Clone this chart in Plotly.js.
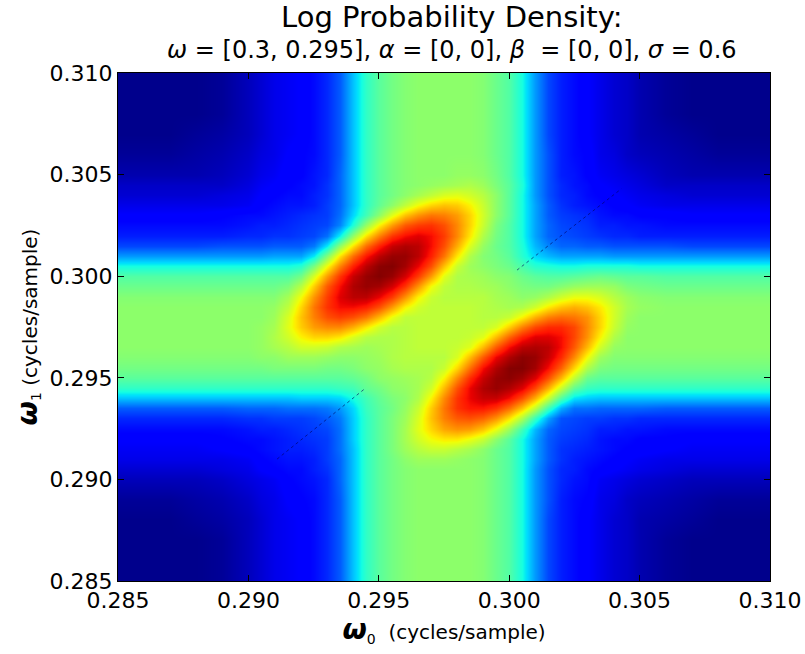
<!DOCTYPE html>
<html>
<head>
<meta charset="utf-8">
<script src="https://cdn.plot.ly/plotly-3.0.1.min.js"></script>
<style>html,body{margin:0;padding:0;background:#fff;}#chart{width:805px;height:654px;}</style>
</head>
<body>
<div id="chart"></div>
<script>
// omega_0 grid (x, cycles/sample), finer in the middle
const omega0 = [0.285,0.286,0.287,0.288,0.289,
  0.2900,0.2905,0.2910,0.2915,0.2920,0.2925,0.2930,0.2935,0.2940,0.2945,
  0.2950,0.2955,0.2960,0.2965,0.2970,0.2975,0.2980,0.2985,0.2990,0.2995,
  0.3000,0.3005,0.3010,0.3015,0.3020,0.3025,0.3030,0.3035,0.3040,0.3045,0.3050,
  0.306,0.307,0.308,0.309,0.310];
// omega_1 grid (y, cycles/sample)
const omega1 = [0.285,0.286,0.287,0.288,0.289,
  0.2900,0.2905,0.2910,0.2915,0.2920,0.2925,0.2930,0.2935,0.2940,0.2945,
  0.2950,0.2955,0.2960,0.2965,0.2970,0.2975,0.2980,0.2985,0.2990,0.2995,
  0.3000,0.3005,0.3010,0.3015,0.3020,0.3025,0.3030,0.3035,0.3040,0.3045,0.3050,
  0.306,0.307,0.308,0.309,0.310];
// log probability density (relative 0-100 scale); rows follow omega1
const logDensity = [
[3,3,3,3,4,7,9,11,12,13,15,18,23,33,42,47,50,52,53,53,53,53,53,52,49,46,39,29,21,17,15,13,11,9,8,6,4,3,3,3,3],
[3,3,3,3,4,7,9,11,12,13,15,18,23,33,42,47,50,52,53,53,53,53,53,52,49,46,39,29,21,17,15,13,11,9,8,6,4,3,3,3,3],
[3,3,3,3,4,7,9,11,12,13,15,18,23,33,42,47,50,52,53,53,53,53,53,52,49,46,39,29,21,17,15,13,11,9,8,6,4,3,3,3,3],
[3,3,3,4,5,7,9,11,12,13,15,18,23,33,42,47,50,52,53,53,53,53,53,52,49,46,39,29,21,17,15,13,11,9,8,6,5,4,3,3,3],
[4,4,4,5,6,8,10,11,13,14,15,18,23,33,42,47,50,52,53,53,53,53,53,52,49,46,39,29,22,17,15,14,11,10,8,7,6,5,4,4,4],
[7,7,7,7,8,10,11,12,14,15,16,18,24,33,42,47,50,52,53,53,53,53,53,52,49,46,39,29,22,18,16,15,12,11,10,9,8,7,7,7,7],
[9,9,9,9,10,11,13,14,15,15,17,19,24,33,42,47,50,52,53,53,53,53,53,52,49,46,39,29,22,18,17,15,14,13,12,11,10,9,9,9,9],
[11,11,11,11,11,12,14,15,16,16,17,20,24,33,42,47,50,53,55,55,55,54,53,52,49,46,39,30,23,19,17,16,15,14,13,12,11,11,11,11,11],
[12,12,12,12,13,14,15,16,17,17,18,20,25,33,42,47,51,55,58,60,60,58,56,53,49,46,39,30,23,19,18,17,16,15,14,14,13,12,12,12,12],
[13,13,13,13,14,15,15,16,17,18,19,20,25,34,42,47,51,56,61,65,67,67,64,60,53,47,39,30,23,20,19,18,16,15,15,14,14,13,13,13,13],
[15,15,15,15,15,16,17,17,18,19,20,21,25,34,42,47,51,56,63,69,74,76,75,71,64,55,44,32,24,21,20,19,17,17,16,16,15,15,15,15,15],
[18,18,18,18,18,19,19,20,20,20,21,23,26,34,42,47,51,55,62,71,78,82,83,81,76,68,57,43,30,22,21,20,20,19,19,18,18,18,18,18,18],
[23,23,23,23,23,24,24,24,25,25,25,26,29,35,43,47,50,54,60,70,79,86,89,89,86,80,71,59,44,31,25,25,24,24,24,24,23,23,23,23,23],
[33,33,33,33,33,33,33,33,33,34,34,34,35,39,44,48,51,53,57,66,77,86,91,94,94,90,83,73,60,46,36,34,33,33,33,33,33,33,33,33,33],
[42,42,42,42,42,42,42,42,42,42,42,42,43,44,48,50,53,54,56,61,72,83,91,96,98,96,92,84,73,60,48,43,42,42,42,42,42,42,42,42,42],
[47,47,47,47,47,47,47,47,47,47,47,47,47,48,50,53,54,55,56,58,66,77,87,94,98,99,97,92,83,72,59,49,47,47,47,47,47,47,47,47,47],
[50,50,50,50,50,50,50,51,51,51,51,50,50,51,53,54,56,57,57,57,60,69,80,90,96,99.5,99.7,97,90,81,69,57,51,50,50,50,50,50,50,50,50],
[52,52,52,52,52,52,53,53,55,55,55,54,53,53,54,55,57,58,58,58,58,62,72,82,91,96,99,98,94,87,77,65,55,52,52,52,52,52,52,52,52],
[53,53,53,53,53,53,54,56,58,61,61,60,57,56,55,56,57,58,59,59,59,60,63,72,82,90,95,96,95,90,82,72,61,54,53,53,53,53,53,53,53],
[53,53,53,53,53,53,54,57,61,66,69,69,67,62,58,57,57,58,59,59,59,59,60,63,72,81,88,92,92,90,84,76,66,57,53,53,53,53,53,53,53],
[53,53,53,53,53,53,54,56,63,70,75,77,77,73,67,61,58,58,59,59,59,59,59,59,62,70,78,84,87,87,84,77,69,60,54,53,53,53,53,53,53],
[53,53,53,53,53,53,53,55,62,71,78,83,85,83,79,72,64,59,59,59,59,59,59,58,58,60,66,73,78,80,79,76,69,61,55,53,53,53,53,53,53],
[53,53,53,53,53,53,53,54,59,69,79,86,90,90,88,83,75,66,61,59,59,59,59,58,57,56,57,61,67,71,73,71,67,61,56,54,53,53,53,53,53],
[52,52,52,52,52,52,52,52,56,65,76,85,92,95,95,91,85,76,66,60,58,58,58,58,56,55,53,54,57,61,64,64,62,58,55,53,52,52,52,52,52],
[49,49,49,49,49,49,49,49,51,58,70,82,90,96,98,97,93,86,76,65,59,57,57,56,55,53,51,50,50,52,54,55,55,54,51,50,49,49,49,49,49],
[46,46,46,46,46,46,46,46,46,50,62,75,86,94,98,99.7,98,93,85,75,63,57,56,55,53,52,49,47,46,46,47,48,49,48,47,47,46,46,46,46,46],
[39,39,39,39,39,39,39,39,39,41,51,65,78,88,95,99,99.7,97,91,83,71,60,55,53,51,49,45,41,40,39,39,40,40,40,40,39,39,39,39,39,39],
[29,29,29,29,29,29,29,30,30,30,37,52,68,80,89,95,98,98,95,88,79,67,57,52,50,47,41,35,32,30,30,30,30,29,29,29,29,29,29,29,29],
[21,21,21,21,22,22,22,23,23,23,26,37,54,68,80,88,94,96,95,90,83,73,62,54,49,46,40,32,27,24,24,23,23,22,22,22,22,21,21,21,21],
[17,17,17,17,17,18,18,19,19,20,21,25,38,54,68,78,86,90,92,90,85,77,67,57,50,46,39,30,24,22,21,20,19,18,18,17,17,17,17,17,17],
[15,15,15,15,15,16,17,17,18,19,20,21,27,40,54,66,75,82,85,86,83,77,69,60,51,46,39,30,24,21,20,19,17,17,16,16,15,15,15,15,15],
[13,13,13,13,14,15,15,16,17,18,19,20,25,35,44,53,63,71,76,79,78,75,69,61,53,47,39,30,23,20,19,18,16,15,15,14,14,13,13,13,13],
[11,11,11,11,11,12,14,15,16,16,17,20,24,33,42,48,53,59,65,69,71,70,66,60,53,47,39,30,23,19,17,16,15,14,13,12,11,11,11,11,11],
[9,9,9,9,10,11,13,14,15,15,17,19,24,33,42,47,50,53,56,59,62,63,61,58,53,47,39,29,22,18,17,15,14,13,12,11,10,9,9,9,9],
[8,8,8,8,8,10,12,13,14,15,16,19,24,33,42,47,50,52,53,54,55,56,57,55,51,47,40,29,22,18,16,15,13,12,11,10,8,8,8,8,8],
[6,6,6,6,7,9,11,12,14,14,16,18,24,33,42,47,50,52,53,53,53,54,54,53,50,46,39,29,22,17,16,14,12,11,10,9,7,6,6,6,6],
[4,4,4,5,6,8,10,11,13,14,15,18,23,33,42,47,50,52,53,53,53,53,53,52,49,46,39,29,22,17,15,14,11,10,8,7,6,5,4,4,4],
[3,3,3,4,5,7,9,11,12,13,15,18,23,33,42,47,50,52,53,53,53,53,53,52,49,46,39,29,21,17,15,13,11,9,8,6,5,4,3,3,3],
[3,3,3,3,4,7,9,11,12,13,15,18,23,33,42,47,50,52,53,53,53,53,53,52,49,46,39,29,21,17,15,13,11,9,8,6,4,3,3,3,3],
[3,3,3,3,4,7,9,11,12,13,15,18,23,33,42,47,50,52,53,53,53,53,53,52,49,46,39,29,21,17,15,13,11,9,8,6,4,3,3,3,3],
[3,3,3,3,4,7,9,11,12,13,15,18,23,33,42,47,50,52,53,53,53,53,53,52,49,46,39,29,21,17,15,13,11,9,8,6,4,3,3,3,3]
];
// faint dotted artifacts along the diagonal
const artifactLowX = [0.2911, 0.2945];
const artifactLowY = [0.2910, 0.2945];
const artifactHighX = [0.3003, 0.3043];
const artifactHighY = [0.3003, 0.3043];
// tick labels
const tickVals = [0.285, 0.290, 0.295, 0.300, 0.305, 0.310];
const tickText = ['0.285', '0.290', '0.295', '0.300', '0.305', '0.310'];

const jet = [
  [0, 'rgb(0,0,128)'], [0.11, 'rgb(0,0,255)'], [0.125, 'rgb(0,0,255)'],
  [0.34, 'rgb(0,219,255)'], [0.35, 'rgb(0,229,247)'], [0.375, 'rgb(20,255,226)'],
  [0.64, 'rgb(239,255,8)'], [0.65, 'rgb(247,246,0)'], [0.66, 'rgb(255,236,0)'],
  [0.89, 'rgb(255,19,0)'], [0.91, 'rgb(232,0,0)'], [1, 'rgb(128,0,0)']
];

const font = 'DejaVu Sans, Liberation Sans, sans-serif';

const traces = [
  {
    type: 'heatmap', x: omega0, y: omega1, z: logDensity,
    colorscale: jet, zmin: 2, zmax: 100, zsmooth: 'best', showscale: false, hoverinfo: 'skip'
  },
  {
    type: 'scatter', mode: 'lines', x: artifactLowX, y: artifactLowY,
    line: {color: 'rgba(0,0,90,0.6)', width: 1, dash: 'dot'}, hoverinfo: 'skip', showlegend: false
  },
  {
    type: 'scatter', mode: 'lines', x: artifactHighX, y: artifactHighY,
    line: {color: 'rgba(0,0,90,0.6)', width: 1, dash: 'dot'}, hoverinfo: 'skip', showlegend: false
  }
];

const axisCommon = {
  tickvals: tickVals, ticktext: tickText,
  ticks: 'inside', ticklen: 6, tickwidth: 1, tickcolor: '#000',
  showline: true, linecolor: '#000', linewidth: 1, mirror: 'ticks',
  showgrid: false, zeroline: false,
  tickfont: {family: font, size: 22, color: '#000'}
};

const layout = {
  width: 805, height: 654,
  margin: {l: 118, r: 35, t: 73, b: 73, pad: 0},
  paper_bgcolor: '#fff', plot_bgcolor: '#fff',
  showlegend: false,
  title: {
    text: '<span style="font-size:29px">Log Probability Density:</span><br><i>ω</i> = [0.3, 0.295], <i>α</i> = [0, 0], <i>β</i>  = [0, 0], <i>σ</i> = 0.6',
    font: {family: font, size: 24, color: '#000'},
    x: 0.512, xref: 'paper', xanchor: 'center',
    y: 0.9587, yref: 'container', yanchor: 'top'
  },
  xaxis: Object.assign({}, axisCommon, {
    range: [0.285, 0.310],
    title: {
      text: '<span style="font-size:28px"><b><i>ω</i></b></span><sub>0</sub>  (cycles/sample)',
      font: {family: font, size: 20, color: '#000'}, standoff: 6
    }
  }),
  yaxis: Object.assign({}, axisCommon, {
    range: [0.285, 0.310],
    title: {
      text: '<span style="font-size:28px"><b><i>ω</i></b></span><sub>1</sub> (cycles/sample)',
      font: {family: font, size: 20, color: '#000'}, standoff: 6
    }
  })
};

Plotly.newPlot('chart', traces, layout, {displayModeBar: false, staticPlot: true});
</script>
</body>
</html>
